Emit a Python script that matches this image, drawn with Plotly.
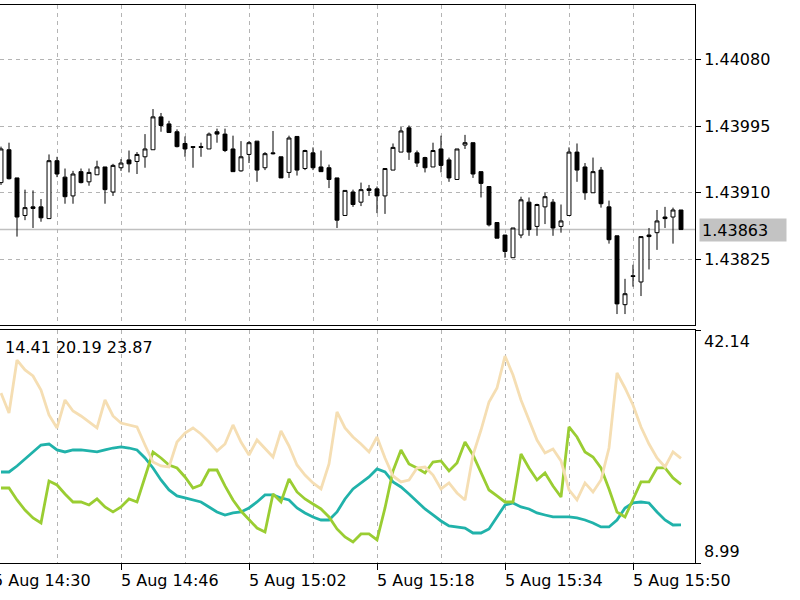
import plotly.graph_objects as go

# ---------------- data ----------------
bar_idx = list(range(86))  # one-minute bars, 14:31 ... 15:56

open_ = [1.43923, 1.43965, 1.43929, 1.43881, 1.43892, 1.43892, 1.43877, 1.43951, 1.43930, 1.43906,
         1.43937, 1.43924, 1.43933, 1.43943, 1.43911, 1.43942, 1.43952, 1.43950, 1.43956, 1.43965,
         1.44007, 1.43998, 1.43988, 1.43973, 1.43969, 1.43969, 1.43966, 1.43988, 1.43985, 1.43966,
         1.43938, 1.43959, 1.43976, 1.43942, 1.43961, 1.43956, 1.43936, 1.43982, 1.43941, 1.43961,
         1.43943, 1.43942, 1.43929, 1.43881, 1.43911, 1.43898, 1.43915, 1.43915, 1.43906, 1.43939,
         1.43962, 1.43993, 1.43961, 1.43955, 1.43943, 1.43966, 1.43952, 1.43927, 1.43971, 1.43974,
         1.43937, 1.43918, 1.43872, 1.43856, 1.43827, 1.43856, 1.43898, 1.43867, 1.43892, 1.43898,
         1.43867, 1.43881, 1.43962, 1.43943, 1.43910, 1.43939, 1.43892, 1.43855, 1.43767, 1.43804,
         1.43796, 1.43856, 1.43859, 1.43879, 1.43879, 1.43888]

high = [1.43969, 1.43974, 1.43929, 1.43914, 1.43913, 1.43902, 1.43959, 1.43956, 1.43941, 1.43938,
        1.43941, 1.43941, 1.43951, 1.43943, 1.43947, 1.43953, 1.43964, 1.43962, 1.43985, 1.44017,
        1.44012, 1.44002, 1.43991, 1.43982, 1.43969, 1.43974, 1.43987, 1.43992, 1.43992, 1.43983,
        1.43976, 1.43976, 1.43976, 1.43962, 1.43989, 1.43956, 1.43983, 1.43982, 1.43965, 1.43968,
        1.43964, 1.43946, 1.43929, 1.43913, 1.43914, 1.43923, 1.43920, 1.43918, 1.43941, 1.43973,
        1.43994, 1.43996, 1.43964, 1.43956, 1.43974, 1.43983, 1.43955, 1.43966, 1.43984, 1.43974,
        1.43937, 1.43918, 1.43872, 1.43856, 1.43865, 1.43905, 1.43904, 1.43896, 1.43910, 1.43902,
        1.43895, 1.43968, 1.43973, 1.43948, 1.43955, 1.43943, 1.43900, 1.43855, 1.43800, 1.43818,
        1.43854, 1.43865, 1.43888, 1.43892, 1.43891, 1.43888]

low = [1.43920, 1.43927, 1.43854, 1.43875, 1.43865, 1.43873, 1.43877, 1.43930, 1.43896, 1.43896,
       1.43922, 1.43919, 1.43933, 1.43896, 1.43906, 1.43938, 1.43936, 1.43934, 1.43942, 1.43965,
       1.43988, 1.43987, 1.43968, 1.43956, 1.43942, 1.43956, 1.43966, 1.43974, 1.43962, 1.43937,
       1.43937, 1.43948, 1.43924, 1.43939, 1.43959, 1.43929, 1.43929, 1.43932, 1.43939, 1.43939,
       1.43937, 1.43916, 1.43865, 1.43881, 1.43892, 1.43893, 1.43906, 1.43884, 1.43883, 1.43939,
       1.43962, 1.43952, 1.43943, 1.43936, 1.43943, 1.43936, 1.43924, 1.43927, 1.43966, 1.43929,
       1.43904, 1.43867, 1.43852, 1.43827, 1.43827, 1.43852, 1.43855, 1.43855, 1.43870, 1.43855,
       1.43859, 1.43881, 1.43924, 1.43901, 1.43910, 1.43891, 1.43845, 1.43755, 1.43755, 1.43790,
       1.43778, 1.43812, 1.43837, 1.43865, 1.43845, 1.43863]

close = [1.43966, 1.43928, 1.43879, 1.43891, 1.43890, 1.43878, 1.43951, 1.43934, 1.43905, 1.43934,
         1.43923, 1.43936, 1.43943, 1.43914, 1.43945, 1.43948, 1.43947, 1.43959, 1.43966, 1.44007,
         1.43996, 1.43987, 1.43969, 1.43966, 1.43968, 1.43968, 1.43985, 1.43985, 1.43964, 1.43937,
         1.43956, 1.43974, 1.43939, 1.43960, 1.43960, 1.43929, 1.43980, 1.43939, 1.43964, 1.43942,
         1.43937, 1.43927, 1.43875, 1.43913, 1.43895, 1.43914, 1.43913, 1.43906, 1.43941, 1.43968,
         1.43989, 1.43962, 1.43948, 1.43942, 1.43964, 1.43945, 1.43929, 1.43966, 1.43974, 1.43934,
         1.43922, 1.43869, 1.43852, 1.43835, 1.43865, 1.43901, 1.43863, 1.43895, 1.43905, 1.43865,
         1.43874, 1.43962, 1.43939, 1.43910, 1.43937, 1.43896, 1.43850, 1.43768, 1.43781, 1.43803,
         1.43854, 1.43854, 1.43874, 1.43877, 1.43888, 1.43863]

adx = [21.94, 21.94, 22.79, 23.79, 24.79, 25.78, 25.92, 25.07, 24.79, 25.07,
       25.07, 24.93, 24.79, 25.07, 25.35, 25.50, 25.35, 25.07, 23.93, 22.51,
       20.80, 19.38, 18.53, 18.24, 17.96, 17.67, 16.96, 16.25, 15.82, 16.11,
       16.25, 16.82, 17.67, 18.67, 18.67, 18.24, 17.96, 16.82, 16.11, 15.54,
       15.11, 15.11, 16.25, 18.10, 19.52, 20.38, 21.23, 22.37, 21.94, 20.52,
       19.81, 18.81, 17.67, 16.68, 15.82, 14.97, 14.26, 14.12, 13.97, 13.26,
       13.26, 13.83, 15.54, 17.25, 17.53, 16.96, 16.68, 16.11, 15.82, 15.54,
       15.54, 15.54, 15.40, 15.11, 14.69, 14.12, 14.12, 15.11, 16.82, 17.53,
       17.67, 17.53, 16.25, 15.11, 14.40, 14.41]

plus_di = [19.66, 19.66, 17.96, 16.53, 15.40, 14.69, 20.66, 20.09, 18.81, 17.67,
           17.67, 17.25, 18.10, 16.96, 16.25, 16.96, 18.10, 17.67, 21.23, 24.79,
           23.93, 22.94, 22.51, 21.23, 19.66, 20.09, 22.22, 22.22, 19.95, 17.96,
           16.39, 15.11, 13.97, 13.41, 18.81, 17.67, 20.94, 19.10, 18.10, 17.39,
           16.68, 15.54, 13.83, 12.69, 11.98, 13.12, 13.12, 12.27, 16.82, 22.08,
           25.07, 23.08, 22.51, 21.80, 23.36, 23.51, 22.08, 23.22, 26.21, 24.36,
           21.94, 19.38, 18.53, 17.67, 17.67, 24.50, 22.51, 20.80, 21.80, 19.95,
           18.38, 28.34, 26.92, 24.79, 24.07, 22.51, 19.52, 16.25, 15.54, 17.96,
           20.52, 20.52, 22.51, 22.51, 21.09, 20.19]

minus_di = [33.18, 30.33, 37.87, 36.45, 35.60, 33.60, 30.05, 28.20, 32.18, 30.62,
            29.91, 29.05, 28.20, 32.18, 29.91, 28.91, 28.63, 28.34, 25.78, 23.36,
            22.79, 22.65, 26.21, 27.49, 28.20, 27.35, 26.21, 24.93, 25.92, 28.63,
            26.21, 24.36, 26.49, 25.35, 24.07, 27.77, 25.64, 22.94, 21.51, 20.38,
            19.52, 23.08, 30.48, 28.20, 26.92, 25.92, 24.79, 26.92, 23.93, 21.37,
            20.52, 20.80, 22.51, 22.65, 21.51, 19.52, 20.38, 18.95, 17.96, 24.36,
            27.91, 31.90, 33.89, 38.44, 35.74, 32.18, 29.20, 26.49, 24.64, 25.21,
            23.51, 19.38, 17.96, 20.38, 19.10, 20.80, 25.35, 36.02, 33.89, 31.47,
            28.34, 25.92, 23.93, 22.65, 24.79, 23.87]

price_ticks = [1.44080, 1.43995, 1.43910, 1.43825]
price_tick_text = ["1.44080", "1.43995", "1.43910", "1.43825"]
current_price = 1.43863
current_price_text = "1.43863"

ind_max, ind_min = 42.14, 8.99
ind_max_text, ind_min_text = "42.14", "8.99"
ind_values_text = "14.41 20.19 23.87"

time_tick_idx = [-1, 15, 31, 47, 63, 79]
time_tick_text = ["5 Aug 14:30", "5 Aug 14:46", "5 Aug 15:02",
                  "5 Aug 15:18", "5 Aug 15:34", "5 Aug 15:50"]

# ---------------- figure ----------------
GRID = "#b4b4b4"
DASH = "4px,4px"
FONT = "DejaVu Sans"
X_RANGE = [-0.125, 86.75]
PLOT_W = 695  # plot-area width in px (800 - right margin)

fig = go.Figure()

fig.add_trace(go.Candlestick(
    x=bar_idx, open=open_, high=high, low=low, close=close,
    xaxis="x", yaxis="y",
    increasing=dict(line=dict(color="black", width=1), fillcolor="white"),
    decreasing=dict(line=dict(color="black", width=1), fillcolor="black"),
    whiskerwidth=0, showlegend=False, hoverinfo="skip",
))

fig.add_trace(go.Scatter(x=bar_idx, y=adx, xaxis="x2", yaxis="y2", mode="lines",
                         line=dict(color="#20B2AA", width=2.8), showlegend=False))
fig.add_trace(go.Scatter(x=bar_idx, y=plus_di, xaxis="x2", yaxis="y2", mode="lines",
                         line=dict(color="#9ACD32", width=2.8), showlegend=False))
fig.add_trace(go.Scatter(x=bar_idx, y=minus_di, xaxis="x2", yaxis="y2", mode="lines",
                         line=dict(color="#F5DEB3", width=2.8), showlegend=False))

grid_common = dict(
    showgrid=True, gridcolor=GRID, gridwidth=1, griddash=DASH,
    tickmode="linear", tick0=-1, dtick=16,
    minor=dict(tick0=-1, dtick=8, showgrid=True, gridcolor=GRID, gridwidth=1,
               griddash=DASH),
    showline=True, mirror=True, linecolor="black", linewidth=1, zeroline=False,
)

label_font = dict(family=FONT, size=16, color="black")
annotations = []
px_per_bar = PLOT_W / (X_RANGE[1] - X_RANGE[0])
for ix, txt in zip(time_tick_idx, time_tick_text):
    if ix >= X_RANGE[0]:
        annotations.append(dict(x=ix, xref="x2", y=0, yref="paper", text=txt,
                                xanchor="left", yanchor="top", xshift=-2, yshift=-6,
                                showarrow=False, font=label_font))
    else:
        # tick lies just left of the visible range: anchor at the left edge and shift
        annotations.append(dict(x=0, xref="paper", y=0, yref="paper", text=txt,
                                xanchor="left", yanchor="top",
                                xshift=(ix - X_RANGE[0]) * px_per_bar - 2, yshift=-6,
                                showarrow=False, font=label_font))

annotations.append(dict(x=1, xref="paper", y=current_price, yref="y",
                        text=current_price_text, xanchor="left", yanchor="middle",
                        xshift=4, showarrow=False, bgcolor="#c3c3c3", borderpad=2,
                        width=82, height=18, align="left", font=label_font))

annotations.append(dict(x=1, xref="paper", y=ind_max, yref="y2", text=ind_max_text,
                        xanchor="left", yanchor="top", xshift=7, yshift=0,
                        showarrow=False, font=label_font))
annotations.append(dict(x=1, xref="paper", y=ind_min, yref="y2", text=ind_min_text,
                        xanchor="left", yanchor="bottom", xshift=7, yshift=0,
                        showarrow=False, font=label_font))
annotations.append(dict(x=0, xref="paper", y=0.41756, yref="paper", text=ind_values_text,
                        xanchor="left", yanchor="top", xshift=3, yshift=-6,
                        showarrow=False, font=label_font))

fig.update_layout(
    width=800, height=600,
    margin=dict(l=0, r=800 - PLOT_W, t=5, b=37),
    paper_bgcolor="white", plot_bgcolor="white",
    showlegend=False,
    font=label_font,
    hovermode=False,
    xaxis=dict(domain=[0, 1], range=X_RANGE, anchor="y",
               showticklabels=False, ticks="", rangeslider=dict(visible=False),
               **grid_common),
    xaxis2=dict(domain=[0, 1], matches="x", anchor="y2",
                showticklabels=False, ticks="outside", ticklen=6, tickcolor="black",
                rangeslider=dict(visible=False), **grid_common),
    yaxis=dict(domain=[0.42652, 1], range=[1.43741, 1.44150], side="right", anchor="x",
               tickmode="array", tickvals=price_ticks, ticktext=price_tick_text,
               ticks="outside", ticklen=5, tickcolor="black",
               showline=True, linecolor="black", linewidth=1,
               showgrid=True, gridcolor=GRID, gridwidth=1, griddash=DASH,
               zeroline=False, tickfont=label_font),
    yaxis2=dict(domain=[0, 0.41756], range=[ind_min, ind_max], side="right", anchor="x2",
                tickmode="array", tickvals=[ind_max, ind_min], showticklabels=False,
                ticks="outside", ticklen=5, tickcolor="black",
                showline=True, linecolor="black", linewidth=1,
                showgrid=False, zeroline=False),
    shapes=[dict(type="line", xref="paper", x0=0, x1=1, yref="y",
                 y0=current_price, y1=current_price,
                 line=dict(color="#c0c0c0", width=1.5), layer="below")],
    annotations=annotations,
)

fig.write_html("out.html",
               config={"displayModeBar": False, "staticPlot": True},
               post_script="document.body.style.margin='0px';"
                           "document.body.style.overflow='hidden';")
